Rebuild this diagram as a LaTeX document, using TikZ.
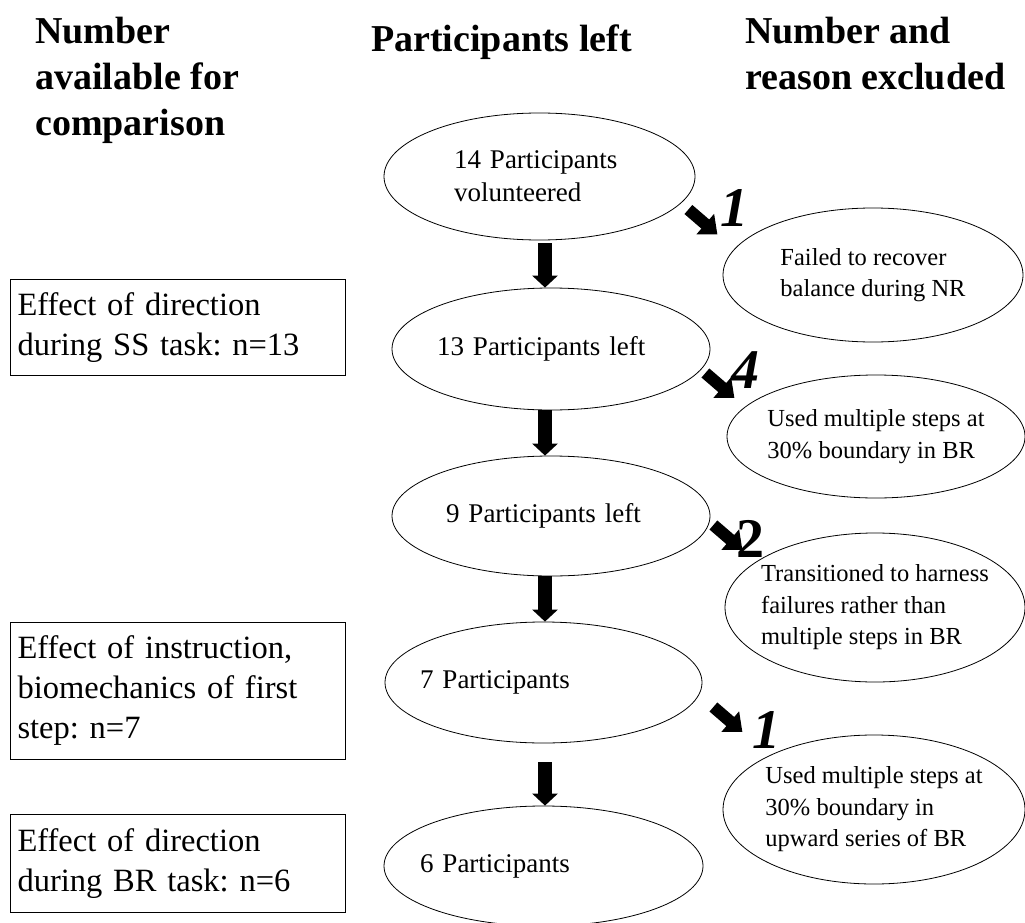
\documentclass[tikz,border=0pt]{standalone}
\usepackage{fontspec}
\setmainfont{Liberation Serif}
\usetikzlibrary{shapes.geometric,arrows.meta,calc}
\frenchspacing
\tikzset{
  head/.style={font=\fontsize{38}{46}\selectfont\bfseries, align=left, anchor=north west, inner sep=0pt},
  cmp/.style={draw, line width=1pt, anchor=north west, text width=321pt, inner xsep=7pt, inner ysep=0pt, align=left, font=\fontsize{32.5}{40}\selectfont},
  stage/.style={ellipse, draw, line width=0.8pt, inner xsep=-12pt, inner ysep=0pt, align=left, font=\fontsize{27}{33}\selectfont},
  drop/.style={ellipse, draw, line width=0.8pt, inner xsep=-8pt, inner ysep=0pt, align=left, font=\fontsize{24.5}{31.5}\selectfont},
  flow/.style={line width=14pt, -{Triangle[width=25pt,length=12pt]}},
  side/.style={line width=12pt, -{Triangle[width=26pt,length=16pt]}},
  num/.style={anchor=base west, inner sep=0pt, font=\fontsize{56}{56}\selectfont\bfseries},
  numi/.style={num, font=\fontsize{56}{56}\selectfont\bfseries\itshape}
}

\begin{document}
\begin{tikzpicture}[x=1pt,y=-1pt]
  \path[use as bounding box, fill=white] (0,0) rectangle (1025,923);

  % column headings
  \node[head] (hcmp) at (35,17) {Number\\available for\\comparison};
  \node[head] (hleft) at (371,25) {Participants left};
  \node[head] (hexcl) at (745,17) {Number and\\reason excluded};

  % what could be compared
  \node[cmp, minimum height=96pt] (ss) at (10,279) {Effect of direction\\during SS task: n=13};
  \node[cmp, minimum height=137pt] (instr) at (10,622) {Effect of instruction,\\biomechanics of first\\step: n=7};
  \node[cmp, minimum height=98pt] (br) at (10,814) {Effect of direction\\during BR task: n=6};

  % participants left
  \node[stage, minimum width=311pt, minimum height=127pt, text width=171pt] (p14) at (539.5,176.5) {14 Participants\\volunteered};
  \node[stage, minimum width=318pt, minimum height=122pt, text width=228pt] (p13) at (551,349) {13 Participants left};
  \node[stage, minimum width=318pt, minimum height=120pt, text width=210pt] (p9) at (551,516) {9 Participants left};
  \node[stage, minimum width=317pt, minimum height=121pt, text width=247pt] (p7) at (543.5,682.5) {7 Participants};
  \node[stage, minimum width=319pt, minimum height=120pt, text width=247pt] (p6) at (543.5,866) {6 Participants};

  % reasons excluded
  \node[drop, minimum width=300pt, minimum height=134pt] (x1) at (873,275) {Failed to recover\\balance during NR};
  \node[drop, minimum width=298pt, minimum height=123pt] (x4) at (876,436.5) {Used multiple steps at\\30\% boundary in BR};
  \node[drop, minimum width=300pt, minimum height=149pt] (x2) at (875,607.5) {Transitioned to harness\\failures rather than\\multiple steps in BR};
  \node[drop, minimum width=302pt, minimum height=149pt] (x1b) at (874,809.5) {Used multiple steps at\\30\% boundary in\\upward series of BR};

  % arrows down the middle
  \coordinate (col) at (545,0);
  \foreach \a/\b/\g in {p14/p13/3, p13/p9/0, p9/p7/0, p7/p6/19}
    \draw[flow] (col |- \a.south) ++(0,\g) -- (col |- \b.north);

  % arrows to the exclusions
  \foreach \s/\dx/\dy in {p14/-7/33, p13/-5/24, p9/3/9, p7/11/24.5}
    \draw[side] ($(\s.east)+(\dx,\dy)$) -- ++(29,25);

  \node[numi] (c1) at (720,226) {1};
  \node[numi] (c4) at (731,388) {4};
  \node[num] (c2) at (736,557) {2};
  \node[numi] (c1b) at (752,748) {1};
\end{tikzpicture}
\end{document}
